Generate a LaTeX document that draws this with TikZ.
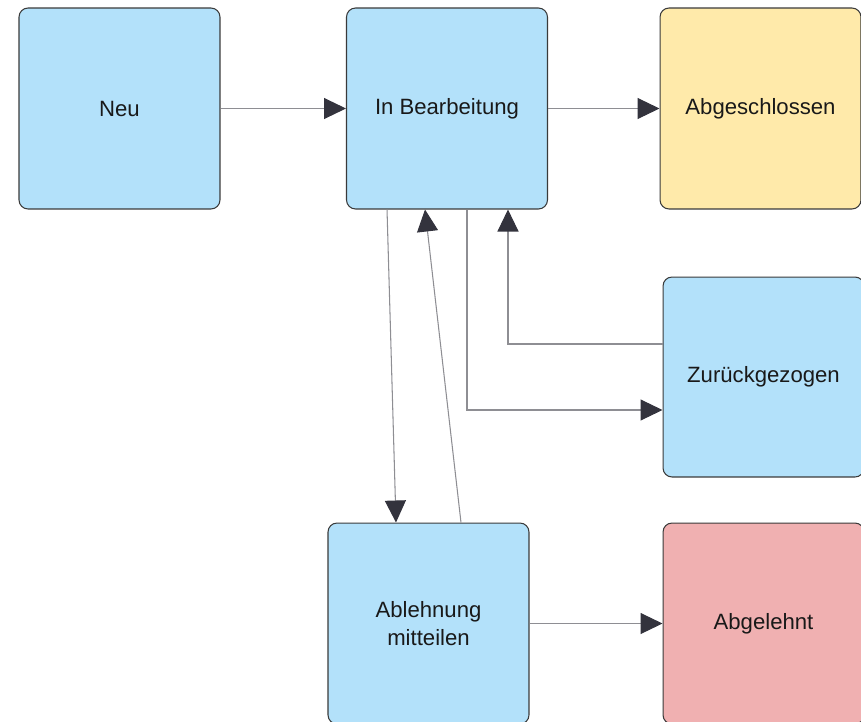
\documentclass[tikz,border=0pt]{standalone}
\usepackage{fontspec}
\setmainfont{Liberation Sans}
\usepackage{xcolor}
\usepackage{tikz}
\usetikzlibrary{arrows.meta,calc,positioning}
\definecolor{boxblue}{HTML}{B3E1FA}
\definecolor{boxyellow}{HTML}{FFEAAA}
\definecolor{boxred}{HTML}{F0B0B1}
\definecolor{boxline}{HTML}{3A3A3A}
\definecolor{linegray}{HTML}{8E8E93}
\definecolor{tipdark}{HTML}{33333D}
\tikzset{
  state/.style={draw=boxline,line width=0.6pt,rounded corners=0.18cm,
    minimum width=4.02cm,minimum height=4.02cm,align=center,
    font=\fontsize{12.6}{15.5}\selectfont,text=black!90},
  flow/.style={draw=linegray,line width=0.6pt,
    -{Triangle[length=0.44cm,width=0.42cm,fill=tipdark,color=tipdark]}}
}

\begin{document}
\begin{tikzpicture}[x=0.02cm,y=-0.02cm]
    \useasboundingbox (0,0) rectangle (861,721);
    \node[state,fill=boxblue] (neu) at (119.5,108.5) {Neu};
    \node[state,fill=boxblue] (bearb) at (447,108.5) {In Bearbeitung};
    \node[state,fill=boxyellow] (abgeschl) at (760.5,108.5) {Abgeschlossen};
    \node[state,fill=boxblue,minimum height=4cm] (zurueck) at (763.5,377) {Zurückgezogen};
    \node[state,fill=boxblue] (ablehn) at (428.5,623.5) {Ablehnung\\mitteilen};
    \node[state,fill=boxred] (abgel) at (763.5,623.5) {Abgelehnt};
    \draw[flow] (neu) -- (bearb);
    \draw[flow] (bearb) -- (abgeschl);
    \draw[flow] ([xshift=-1.2cm]bearb.south) -- ([xshift=-0.65cm]ablehn.north);
    \draw[flow] ([xshift=0.65cm]ablehn.north) -- ([xshift=-0.44cm]bearb.south);
    \draw[flow] ([xshift=0.4cm]bearb.south) |- ([yshift=-0.66cm]zurueck.west);
    \draw[flow] ([yshift=0.66cm]zurueck.west) -| ([xshift=1.22cm]bearb.south);
    \draw[flow] (ablehn) -- (abgel);
\end{tikzpicture}
\end{document}
